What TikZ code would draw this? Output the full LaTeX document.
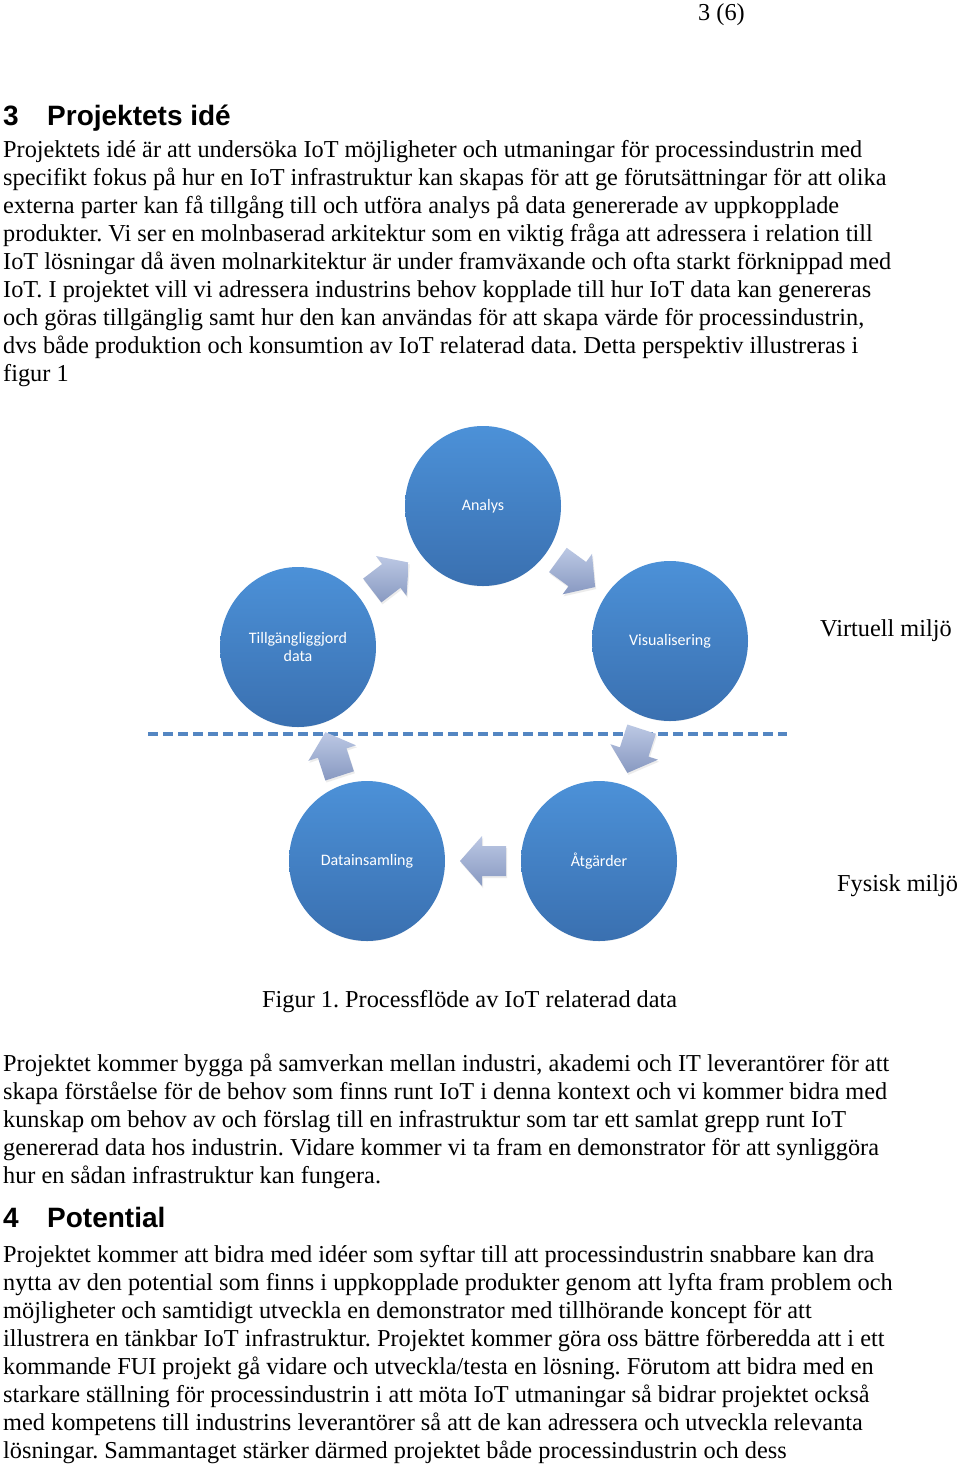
\documentclass[tikz,border=0pt]{standalone}
\usepackage{fontspec}
\setmainfont{Liberation Serif}
\newfontfamily\headfont{Liberation Sans}
\newfontfamily\calfont{Carlito}
\usetikzlibrary{shapes.geometric,shadows,calc}
\frenchspacing
\definecolor{circtop}{RGB}{76,145,216}
\definecolor{circbot}{RGB}{58,112,176}
\definecolor{arrtop}{RGB}{188,200,228}
\definecolor{arrbot}{RGB}{136,153,193}
\definecolor{dashblue}{RGB}{84,134,194}
\tikzset{
  body/.style={anchor=base west, inner sep=0pt, font=\fontsize{24.3}{28}\selectfont},
  head/.style={anchor=base west, inner sep=0pt, font=\headfont\bfseries\fontsize{28}{32}\selectfont},
  bubble/.style={ellipse, minimum width=156pt, minimum height=160pt, inner sep=0pt, outer sep=0pt,
    top color=circtop, bottom color=circbot, draw=none, text=white, align=center,
    font=\calfont\fontsize{16}{17.5}\selectfont,
    drop shadow={opacity=0.12, shadow xshift=0pt, shadow yshift=-3pt, shadow scale=0.97}},
  blkstyle/.style={top color=arrtop, bottom color=arrbot,
    drop shadow={opacity=0.15, shadow xshift=1pt, shadow yshift=-2pt}},
  lbl/.style={anchor=base west, inner sep=0pt, font=\fontsize{24.3}{28}\selectfont}
}
% block arrow: #1 centre coordinate, #2 direction angle (y axis points down)
\newcommand\blockarr[2]{%
  \shade[blkstyle]
    ($(#1)+(#2+180:23)+(#2+90:15)$) -- ($(#1)+(#2:1)+(#2+90:15)$) --
    ($(#1)+(#2:1)+(#2+90:25)$) -- ($(#1)+(#2:23)$) --
    ($(#1)+(#2:1)+(#2-90:25)$) -- ($(#1)+(#2:1)+(#2-90:15)$) --
    ($(#1)+(#2+180:23)+(#2-90:15)$) -- cycle;}
\begin{document}
\begin{tikzpicture}[x=1pt,y=-1pt]
\useasboundingbox[fill=white] (0,0) rectangle (960,1465);
% page number
\node[lbl] (pg) at (698,20) {3 (6)};
% heading 3
\node[head] (h3n) at (3,125) {3};
\node[head] (h3) at (47,125) {Projektets idé};
% paragraph 1
\node[body] (p1) at (3,157) {Projektets idé är att undersöka IoT möjligheter och utmaningar för processindustrin med};
\node[body] (p2) at (3,185) {specifikt fokus på hur en IoT infrastruktur kan skapas för att ge förutsättningar för att olika};
\node[body] (p3) at (3,213) {externa parter kan få tillgång till och utföra analys på data genererade av uppkopplade};
\node[body] (p4) at (3,241) {produkter. Vi ser en molnbaserad arkitektur som en viktig fråga att adressera i relation till};
\node[body] (p5) at (3,269) {IoT lösningar då även molnarkitektur är under framväxande och ofta starkt förknippad med};
\node[body] (p6) at (3,297) {IoT. I projektet vill vi adressera industrins behov kopplade till hur IoT data kan genereras};
\node[body] (p7) at (3,325) {och göras tillgänglig samt hur den kan användas för att skapa värde för processindustrin,};
\node[body] (p8) at (3,353) {dvs både produktion och konsumtion av IoT relaterad data. Detta perspektiv illustreras i};
\node[body] (p9) at (3,381) {figur 1};
% diagram
\draw[dashblue, line width=4pt, dash pattern=on 10pt off 5pt] (148,734) coordinate (dl) -- (787,734) coordinate (dr);
\node[bubble] (an) at (483,506) {Analys};
\node[bubble] (tg) at (298,647) {Tillgängliggjord\\data};
\node[bubble] (vi) at (670,641) {Visualisering};
\node[bubble] (di) at (367,861) {Datainsamling};
\node[bubble] (at) at (599,861) {Åtgärder};
\coordinate (c1) at ($(tg)!0.5!(an)$);
\coordinate (c2) at ($(an)!0.5!(vi)$);
\coordinate (c3) at ($(vi)!0.5!(at)$);
\coordinate (c4) at ($(at)!0.5!(di)$);
\coordinate (c5) at ($(di)!0.5!(tg)$);
\blockarr{c1}{-37.5}
\blockarr{c2}{36}
\blockarr{c3}{108}
\blockarr{c4}{180}
\blockarr{c5}{-108}
\node[lbl] (vm) at (820,636) {Virtuell miljö};
\node[lbl] (fm) at (837,891) {Fysisk miljö};
\node[lbl] (cap) at (262,1007) {Figur 1. Processflöde av IoT relaterad data};
% paragraph 2
\node[body] (q1) at (3,1071) {Projektet kommer bygga på samverkan mellan industri, akademi och IT leverantörer för att};
\node[body] (q2) at (3,1099) {skapa förståelse för de behov som finns runt IoT i denna kontext och vi kommer bidra med};
\node[body] (q3) at (3,1127) {kunskap om behov av och förslag till en infrastruktur som tar ett samlat grepp runt IoT};
\node[body] (q4) at (3,1155) {genererad data hos industrin. Vidare kommer vi ta fram en demonstrator för att synliggöra};
\node[body] (q5) at (3,1183) {hur en sådan infrastruktur kan fungera.};
% heading 4
\node[head] (h4n) at (3,1227) {4};
\node[head] (h4) at (47,1227) {Potential};
% paragraph 3
\node[body] (r1) at (3,1262) {Projektet kommer att bidra med idéer som syftar till att processindustrin snabbare kan dra};
\node[body] (r2) at (3,1290) {nytta av den potential som finns i uppkopplade produkter genom att lyfta fram problem och};
\node[body] (r3) at (3,1318) {möjligheter och samtidigt utveckla en demonstrator med tillhörande koncept för att};
\node[body] (r4) at (3,1346) {illustrera en tänkbar IoT infrastruktur. Projektet kommer göra oss bättre förberedda att i ett};
\node[body] (r5) at (3,1374) {kommande FUI projekt gå vidare och utveckla/testa en lösning. Förutom att bidra med en};
\node[body] (r6) at (3,1402) {starkare ställning för processindustrin i att möta IoT utmaningar så bidrar projektet också};
\node[body] (r7) at (3,1430) {med kompetens till industrins leverantörer så att de kan adressera och utveckla relevanta};
\node[body] (r8) at (3,1458) {lösningar. Sammantaget stärker därmed projektet både processindustrin och dess};
\end{tikzpicture}
\end{document}
